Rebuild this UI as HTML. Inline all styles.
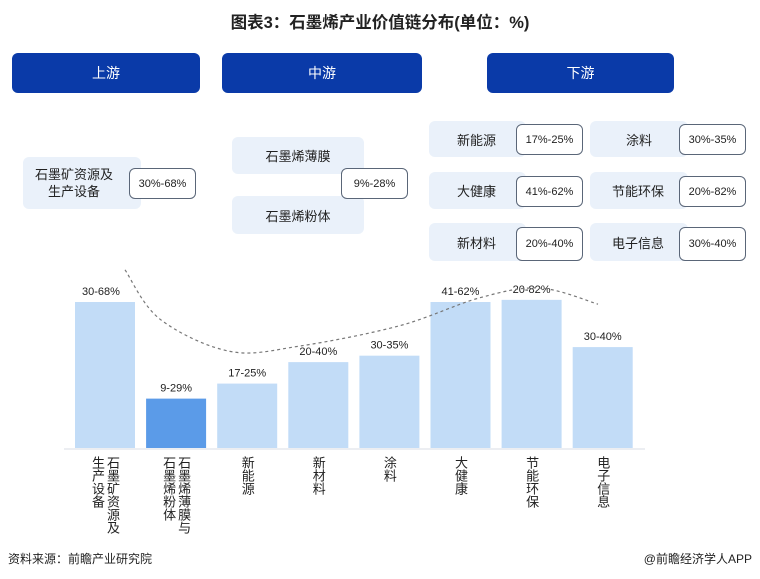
<!DOCTYPE html>
<html><head><meta charset="utf-8">
<style>
*{margin:0;padding:0;box-sizing:border-box}
body{width:760px;height:579px;background:#fff;position:relative;overflow:hidden;font-family:"Liberation Sans","Noto Sans CJK SC",sans-serif;color:#222}
.abs{position:absolute}
.hdr{position:absolute;background:#0a3aa8;color:#fff;border-radius:6px;font-size:14px;display:flex;align-items:center;justify-content:center;height:40px;top:53px}
.lt{position:absolute;background:#eaf1fa;border-radius:6px;font-size:13px;display:flex;align-items:center;justify-content:center;color:#222}
.pc{position:absolute;background:#fff;border:1.5px solid #5a6678;border-radius:6px;font-size:11px;display:flex;align-items:center;justify-content:center;color:#222}
.xl{position:absolute;top:456px;writing-mode:vertical-rl;font-size:13px;line-height:15px;color:#222}
</style></head><body>
<div class="abs" style="left:0;width:760px;top:9px;text-align:center;font-size:16.5px;font-weight:bold">图表3：石墨烯产业价值链分布(单位：%)</div>

<div class="hdr" style="left:12px;width:188px">上游</div>
<div class="hdr" style="left:222px;width:200px">中游</div>
<div class="hdr" style="left:487px;width:187px">下游</div>

<div class="lt" style="left:23px;top:157px;width:118px;height:52px;justify-content:flex-start;padding-left:12px;line-height:17px;text-align:center">石墨矿资源及<br>生产设备</div>
<div class="pc" style="left:129px;top:168px;width:67px;height:31px">30%-68%</div>

<div class="lt" style="left:232px;top:137px;width:132px;height:37px">石墨烯薄膜</div>
<div class="lt" style="left:232px;top:196px;width:132px;height:38px">石墨烯粉体</div>
<div class="pc" style="left:341px;top:168px;width:67px;height:31px">9%-28%</div>

<div class="lt" style="left:429px;top:121px;width:97px;height:36px;justify-content:flex-start;padding-left:28px">新能源</div>
<div class="pc" style="left:516px;top:124px;width:67px;height:31px">17%-25%</div>
<div class="lt" style="left:429px;top:172px;width:97px;height:37px;justify-content:flex-start;padding-left:28px">大健康</div>
<div class="pc" style="left:516px;top:176px;width:67px;height:31px">41%-62%</div>
<div class="lt" style="left:429px;top:223px;width:97px;height:38px;justify-content:flex-start;padding-left:28px">新材料</div>
<div class="pc" style="left:516px;top:227px;width:67px;height:34px">20%-40%</div>

<div class="lt" style="left:590px;top:121px;width:98px;height:36px;justify-content:flex-start;padding-left:36px">涂料</div>
<div class="pc" style="left:679px;top:124px;width:67px;height:31px">30%-35%</div>
<div class="lt" style="left:590px;top:172px;width:98px;height:37px;justify-content:flex-start;padding-left:22px">节能环保</div>
<div class="pc" style="left:679px;top:176px;width:67px;height:31px">20%-82%</div>
<div class="lt" style="left:590px;top:223px;width:98px;height:38px;justify-content:flex-start;padding-left:22px">电子信息</div>
<div class="pc" style="left:679px;top:227px;width:67px;height:34px">30%-40%</div>

<svg class="abs" id="chart" style="left:0;top:0" width="760" height="579"></svg>
<div id="xlabels"></div>

<div class="abs" style="left:8px;top:550px;font-size:12px">资料来源：前瞻产业研究院</div>
<div class="abs" style="right:8px;top:550px;font-size:12px">@前瞻经济学人APP</div>

<script>
const categories=["石墨矿资源及<br>生产设备","石墨烯薄膜与<br>石墨烯粉体","新能源","新材料","涂料","大健康","节能环保","电子信息"];
const values=[68,23,30,40,43,68,69,47];
const valueLabels=["30-68%","9-29%","17-25%","20-40%","30-35%","41-62%","20-82%","30-40%"];
const trendValues=[83,60,45,47.5,57,70,74.5,67];
const trendX=[125,160,230,300,400,480,540,598];
const NS="http://www.w3.org/2000/svg";
const svg=document.getElementById('chart');
const baseY=448, plotLeft=75, step=71.1, barW=60, unit=146/68;
function xPos(i){return plotLeft+i*step;}
function yPos(v){return baseY-v*unit;}
const base=document.createElementNS(NS,'line');


base.setAttribute('x1',64);base.setAttribute('x2',645);base.setAttribute('y1',baseY+1);base.setAttribute('y2',baseY+1);
base.setAttribute('stroke','#d8dde4');svg.appendChild(base);
values.forEach((v,i)=>{
  const r=document.createElementNS(NS,'rect');
  
  
  r.setAttribute('x',xPos(i));r.setAttribute('y',yPos(v));r.setAttribute('width',barW);r.setAttribute('height',v*unit);
  r.setAttribute('fill',i===1?'#5b9be8':'#c2dcf7');svg.appendChild(r);
  const t=document.createElementNS(NS,'text');
  
  
  t.setAttribute('x',xPos(i)+barW/2+(i===0?-4:0));t.setAttribute('y',yPos(v)-7);t.setAttribute('text-anchor','middle');
  t.setAttribute('font-size','11');t.setAttribute('fill','#222');t.setAttribute('font-family','Liberation Sans, sans-serif');
  t.textContent=valueLabels[i];svg.appendChild(t);
  const d=document.createElement('div');
  
  
  d.className='xl';d.innerHTML=categories[i];
  document.getElementById('xlabels').appendChild(d);
  const w=categories[i].includes('<br>')?30:15;
  d.style.left=(xPos(i)+barW/2-w/2)+'px';
});
const pts=trendX.map((x,i)=>[x,yPos(trendValues[i])]);
let dstr='M'+pts[0][0]+','+pts[0][1];
for(let i=0;i<pts.length-1;i++){
  const p0=pts[Math.max(0,i-1)],p1=pts[i],p2=pts[i+1],p3=pts[Math.min(pts.length-1,i+2)];
  const c1=[p1[0]+(p2[0]-p0[0])/6,p1[1]+(p2[1]-p0[1])/6];
  const c2=[p2[0]-(p3[0]-p1[0])/6,p2[1]-(p3[1]-p1[1])/6];
  dstr+=' C'+c1[0]+','+c1[1]+' '+c2[0]+','+c2[1]+' '+p2[0]+','+p2[1];
}
const path=document.createElementNS(NS,'path');


path.setAttribute('d',dstr);path.setAttribute('fill','none');path.setAttribute('stroke','#777');path.setAttribute('stroke-width','1.2');path.setAttribute('stroke-dasharray','3,3');
svg.appendChild(path);
</script>
</body></html>
